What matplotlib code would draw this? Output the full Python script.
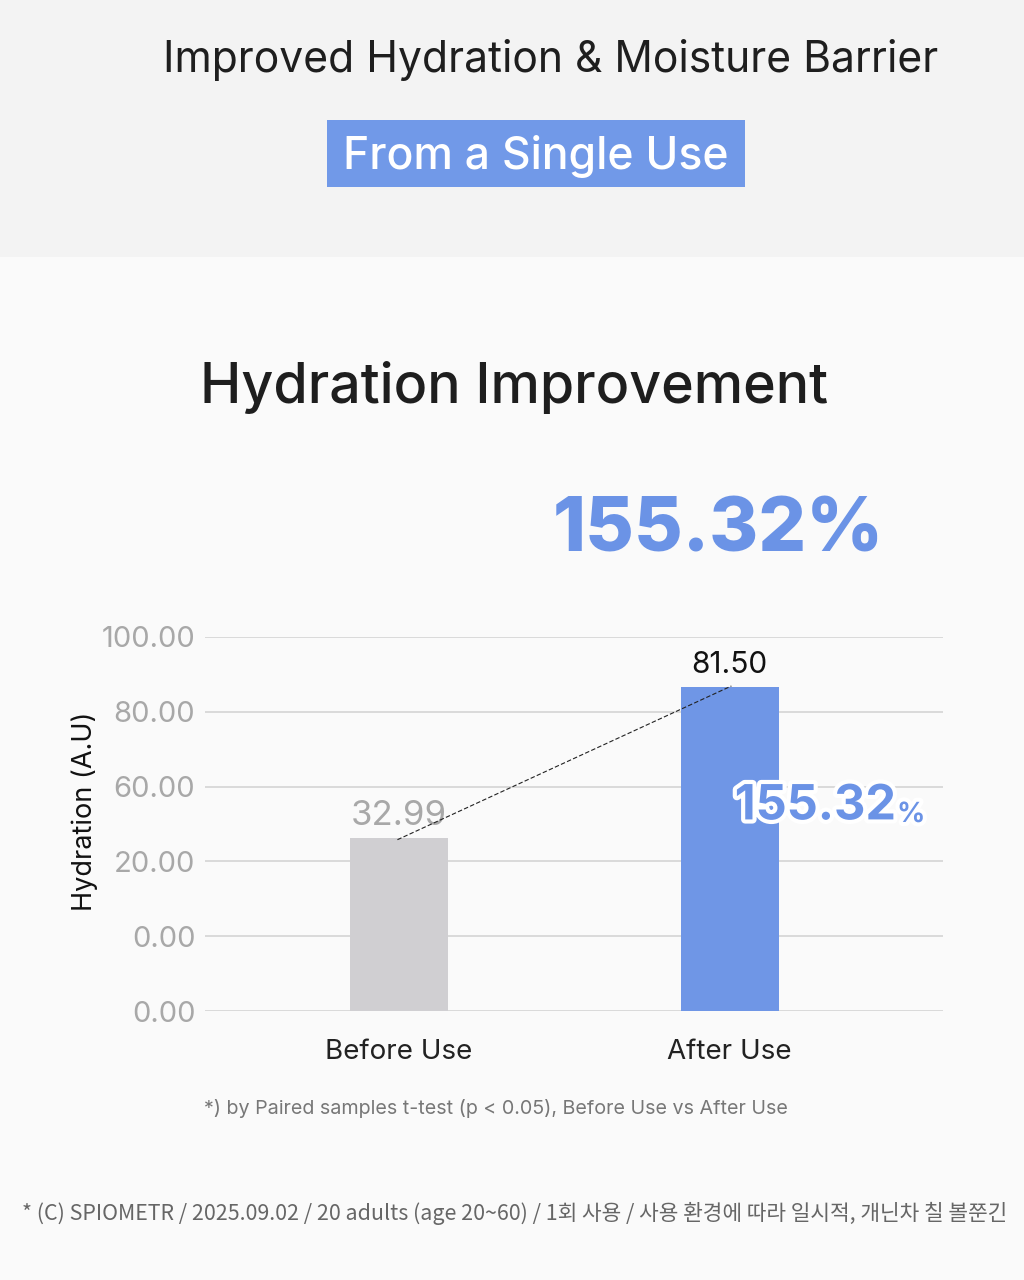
import matplotlib
matplotlib.use("Agg")
import matplotlib.pyplot as plt
import matplotlib.patheffects as pe
from matplotlib.patches import Rectangle

# ---- data ----
categories = ["Before Use", "After Use"]
bar_heights = [46.3, 86.6]          # drawn bar heights on the 0-100 axis
value_labels = ["32.99", "81.50"]
tick_positions = [0, 20, 40, 60, 80, 100]
tick_labels = ["0.00", "0.00", "20.00", "60.00", "80.00", "100.00"]
improvement = "155.32"

W, H = 1024, 1280
fig = plt.figure(figsize=(W / 100, H / 100), dpi=100)
fig.patch.set_facecolor("#fafafa")

TXT = ["Inter", "DejaVu Sans"]
KR = ["Noto Sans CJK KR", "DejaVu Sans"]

def fx(x): return x / W
def fy(y): return 1 - y / H

# top band
fig.patches.append(Rectangle((0, fy(257)), 1, 257 / H, transform=fig.transFigure,
                             facecolor="#f3f3f3", edgecolor="none", zorder=0))
fig.text(fx(551), fy(60), "Improved Hydration & Moisture Barrier", ha="center", va="center",
         fontsize=30.7, color="#1e1e1e", family=TXT)
fig.patches.append(Rectangle((fx(327), fy(187)), fx(745) - fx(327), (187 - 120) / H,
                             transform=fig.transFigure, facecolor="#7199e8", edgecolor="none", zorder=1))
fig.text(fx(536), fy(156), "From a Single Use", ha="center", va="center",
         fontsize=32, color="white", family=TXT, fontweight="medium", zorder=2)

fig.text(fx(514), fy(387), "Hydration Improvement", ha="center", va="center",
         fontsize=40, color="#1e1e1e", family=TXT, fontweight="medium")
fig.text(fx(718), fy(532), improvement + "%", ha="center", va="center",
         fontsize=54, color="#6b93e6", family=TXT, fontweight="heavy")

# axes
L, R, T, B = 205, 943, 637, 1011
ax = fig.add_axes([fx(L), fy(B), (R - L) / W, (B - T) / H])
ax.set_facecolor("none")
ax.set_ylim(0, 100)
ax.set_xlim(-0.587, 1.645)
for s in ax.spines.values():
    s.set_visible(False)
ax.set_yticks(tick_positions)
ax.set_yticklabels(tick_labels, family=TXT, fontsize=21, color="#a8a8a8")
ax.tick_params(axis="y", length=0, pad=7)
ax.yaxis.grid(True, color="#d4d4d4", linewidth=1.2)
ax.set_axisbelow(True)
ax.set_xticks([0, 1])
ax.set_xticklabels(categories, family=TXT, fontsize=20, color="#222222")
ax.tick_params(axis="x", length=0, pad=20)
ax.set_ylabel("Hydration (A.U)", family=TXT, fontsize=19.5, color="#111111")
ax.yaxis.set_label_coords((98 - L) / (R - L), (B - 811) / (B - T))

colors = ["#d0cfd2", "#6f96e6"]
bars = ax.bar([0, 1], bar_heights, width=0.296, color=colors, zorder=2)

ax.text(0, bar_heights[0] + 1.6, value_labels[0], ha="center", va="bottom",
        fontsize=25, color="#a8a8a8", family=TXT, zorder=4)
ax.text(1, bar_heights[1] + 2.2, value_labels[1], ha="center", va="bottom",
        fontsize=21.5, color="#111111", family=TXT, zorder=4)
ax.plot([-0.005, 1.005], [bar_heights[0] - 0.5, bar_heights[1] + 0.3], ls=(0, (4, 2)),
        color="#222222", lw=0.8, zorder=5)

pe_out = [pe.withStroke(linewidth=6, foreground="white")]
t1 = ax.text(1.015, 54.7, improvement, ha="left", va="center", fontsize=35,
             color="#6b93e6", family=TXT, fontweight="bold", zorder=6, path_effects=pe_out)
fig.canvas.draw()
bb = t1.get_window_extent()
fig.text(bb.x1 / W + 0.001, fy(815), "%", ha="left", va="center", fontsize=20,
         color="#6b93e6", family=TXT, fontweight="bold", zorder=6, path_effects=pe_out)

fig.text(fx(496), fy(1108), "*) by Paired samples t-test (p < 0.05), Before Use vs After Use",
         ha="center", va="center", fontsize=14.2, color="#777777", family=TXT)
fig.text(fx(22), fy(1213),
         "* (C) SPIOMETR / 2025.09.02 / 20 adults (age 20~60) / 1회 사용 / 사용 환경에 따라 일시적, 개닌차 칠 볼쭌긴",
         ha="left", va="center", fontsize=15.4, color="#666666", family=KR)

fig.savefig("out.png", dpi=100, facecolor=fig.get_facecolor())
